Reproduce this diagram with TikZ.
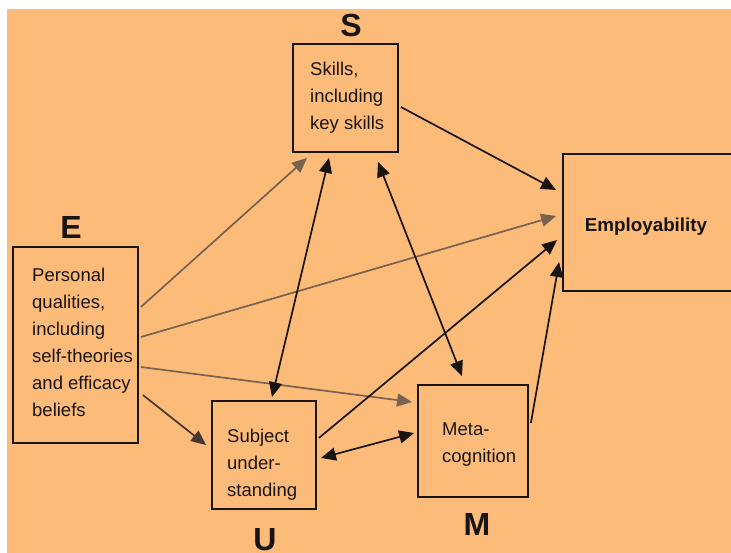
\documentclass[tikz,border=0pt]{standalone}
\usepackage{fontspec}
\setmainfont{Liberation Sans}
\usetikzlibrary{calc,arrows.meta}
\definecolor{bgorange}{RGB}{253,187,122}
\definecolor{linegray}{RGB}{120,98,80}
\definecolor{darkgray2}{RGB}{70,56,46}
\definecolor{ink}{RGB}{25,20,18}
\begin{document}
\begin{tikzpicture}[x=1pt,y=-1pt,
  box/.style={draw=ink, line width=1.8pt, inner sep=0pt},
  txt/.style={anchor=west, inner sep=0pt, align=left, font=\fontsize{18.5}{27}\selectfont, text=ink},
  lbl/.style={font=\fontsize{32}{32}\selectfont\bfseries, text=ink, inner sep=0pt},
  tip/.tip={Triangle[length=15pt,width=13pt]},
  blk/.style={draw=ink, line width=1.7pt, -tip},
  gry/.style={draw=linegray, line width=1.7pt, -tip},
  dgry/.style={draw=darkgray2, line width=1.7pt, -tip},
  dbl/.style={draw=ink, line width=1.7pt, tip-tip}
]
\fill[white] (0,0) rectangle (731,553);
\fill[bgorange] (7,9) rectangle (731,553);
\useasboundingbox (0,0) rectangle (731,553);

% boxes
\node[box, minimum width=105pt, minimum height=108pt] (S) at (345.5,98) {};
\node[box, minimum width=125pt, minimum height=196pt] (E) at (75.5,345) {};
\node[box, minimum width=104pt, minimum height=108pt] (U) at (264,455) {};
\node[box, minimum width=110pt, minimum height=112pt] (M) at (473,441) {};
\node[box, minimum width=200pt, minimum height=137pt] (Emp) at (663,222.5) {};

% box texts
\node[txt] (St) at (310,98) {Skills,\\including\\key skills};
\node[txt] (Et) at (32,342) {Personal\\qualities,\\including\\self-theories\\and efficacy\\beliefs};
\node[txt] (Ut) at (227,465) {Subject\\under-\\standing};
\node[txt] (Mt) at (442,445) {Meta-\\cognition};
\node[inner sep=0pt, font=\fontsize{18.8}{22}\selectfont\bfseries, text=ink] (Empt) at (646,227) {Employability};

% letter labels
\node[lbl] (Sl) at (351,25) {S};
\node[lbl] (El) at (71,227) {E};
\node[lbl] (Ul) at (265,540) {U};
\node[lbl] (Ml) at (477,524) {M};

% connectors
\draw[gry] ($(E.east)+(2,-38)$) -- ($(S.south)+(-38.5,5)$);
\draw[gry] ($(E.east)+(2,-8)$) -- ($(Emp.west)+(-6,-6.5)$);
\draw[gry] ($(E.east)+(2,22)$) -- ($(M.west)+(-5,-39)$);
\draw[dgry] ($(E.east)+(4,50)$) -- ($(U.west)+(-5,-10)$);
\draw[blk] ($(S.east)+(2,9)$) -- ($(Emp.west)+(-6,-32.5)$);
\draw[dbl] ($(S.south)+(-16.5,5)$) -- ($(U.north)+(8,-3)$);
\draw[dbl] ($(S.south)+(32.5,9)$) -- ($(M.north)+(-11,-8)$);
\draw[blk] ($(U.east)+(2,-17)$) -- ($(Emp.west)+(-5,17.5)$);
\draw[dbl] ($(U.east)+(4,3)$) -- ($(M.west)+(-3,-8)$);
\draw[blk] ($(M.east)+(2,-18)$) -- ($(Emp.west)+(-3,39.5)$);
\end{tikzpicture}
\end{document}
